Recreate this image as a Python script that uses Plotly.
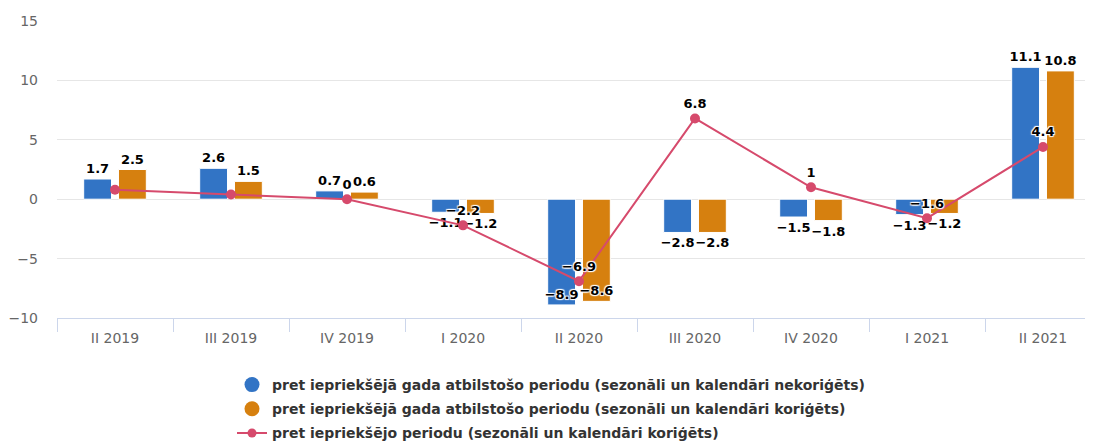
import plotly.graph_objects as go

categories = ["II 2019", "III 2019", "IV 2019", "I 2020", "II 2020", "III 2020", "IV 2020", "I 2021", "II 2021"]
unadjusted = [1.7, 2.6, 0.7, -1.1, -8.9, -2.8, -1.5, -1.3, 11.1]
adjusted = [2.5, 1.5, 0.6, -1.2, -8.6, -2.8, -1.8, -1.2, 10.8]
prev_period = [0.8, 0.4, 0.0, -2.2, -6.9, 6.8, 1.0, -1.6, 4.4]
hidden_line_labels = [0, 1]  # labels hidden due to overlap in the original

names = [
    "pret iepriekšējā gada atbilstošo periodu (sezonāli un kalendāri nekoriģēts)",
    "pret iepriekšējā gada atbilstošo periodu (sezonāli un kalendāri koriģēts)",
    "pret iepriekšējo periodu (sezonāli un kalendāri koriģēts)",
]
colors = ["#3274c5", "#d6800f", "#d64a6c"]

FONT = "DejaVu Sans, sans-serif"
Y_MIN, Y_MAX = -10, 15

def fmt(v):
    s = ("%g" % v)
    return s.replace("-", "\u2212")

shadow = "1px 1px 1px white, -1px -1px 1px white, 1px -1px 1px white, -1px 1px 1px white"
lab_font = dict(family=FONT, size=13, color="#000000", weight="bold", shadow=shadow)

fig = go.Figure()
for vals, col, nm in [(unadjusted, colors[0], names[0]), (adjusted, colors[1], names[1])]:
    # labels that would fall outside the plotting area are kept inside the bar end
    positions = ["inside" if v < Y_MIN + 2 else "outside" for v in vals]
    fig.add_trace(go.Bar(
        x=categories, y=vals, marker=dict(color=col, line=dict(width=1, color="white")),
        text=[fmt(v) for v in vals], textposition=positions, insidetextanchor="end", textangle=0,
        textfont=lab_font, insidetextfont=lab_font, outsidetextfont=lab_font,
        constraintext="none", cliponaxis=False, showlegend=False, name=nm,
    ))

line_text = [("" if i in hidden_line_labels else fmt(v)) for i, v in enumerate(prev_period)]
fig.add_trace(go.Scatter(
    x=categories, y=prev_period, mode="lines+markers+text", name=names[2],
    line=dict(color=colors[2], width=2), marker=dict(size=10, color=colors[2]),
    text=line_text, textposition="top center", textfont=lab_font, cliponaxis=False,
    showlegend=False,
))

# legend entries (circle symbols for the bar series, line+marker for the line)
for col, nm in [(colors[0], names[0]), (colors[1], names[1])]:
    fig.add_trace(go.Scatter(x=[None], y=[None], mode="markers", name=nm, legendgroup=nm,
                             marker=dict(size=15, color=col, symbol="circle"), showlegend=True))
fig.add_trace(go.Scatter(x=[None], y=[None], mode="lines+markers", name=names[2], legendgroup=names[2],
                         line=dict(color=colors[2], width=2), marker=dict(size=9, color=colors[2]),
                         showlegend=True))

# page body has an 8px margin; figure coordinates compensate for it
W, H = 1085, 434
fig.update_layout(
    width=W, height=H,
    margin=dict(l=49, r=0, t=13, b=124, autoexpand=False),
    paper_bgcolor="white", plot_bgcolor="white",
    barmode="group", bargap=0.4, bargroupgap=0.2,
    font=dict(family=FONT, color="#666666", size=14),
    xaxis=dict(range=[-0.5, -0.5 + 1036 / 116], showgrid=False, showline=True, linecolor="#ccd6eb",
               ticks="outside", tickson="boundaries", ticklen=13, tickcolor="#ccd6eb", tickangle=0,
               ticklabelstandoff=7, tickfont=dict(size=14, color="#666666"), fixedrange=True),
    yaxis=dict(range=[Y_MIN, Y_MAX], tickvals=[-10, -5, 0, 5, 10, 15], showgrid=True, gridcolor="#e6e6e6",
               zeroline=True, zerolinecolor="#e6e6e6", zerolinewidth=1, ticklabelstandoff=18,
               tickfont=dict(size=14, color="#666666")),
    legend=dict(orientation="v", xref="container", yref="container", x=543 / W, xanchor="center",
                y=1 - 361 / H, yanchor="top", tracegroupgap=3, itemwidth=30,
                font=dict(size=14, color="#333333", weight="bold")),
    showlegend=True,
)

fig.write_html("out.html")
